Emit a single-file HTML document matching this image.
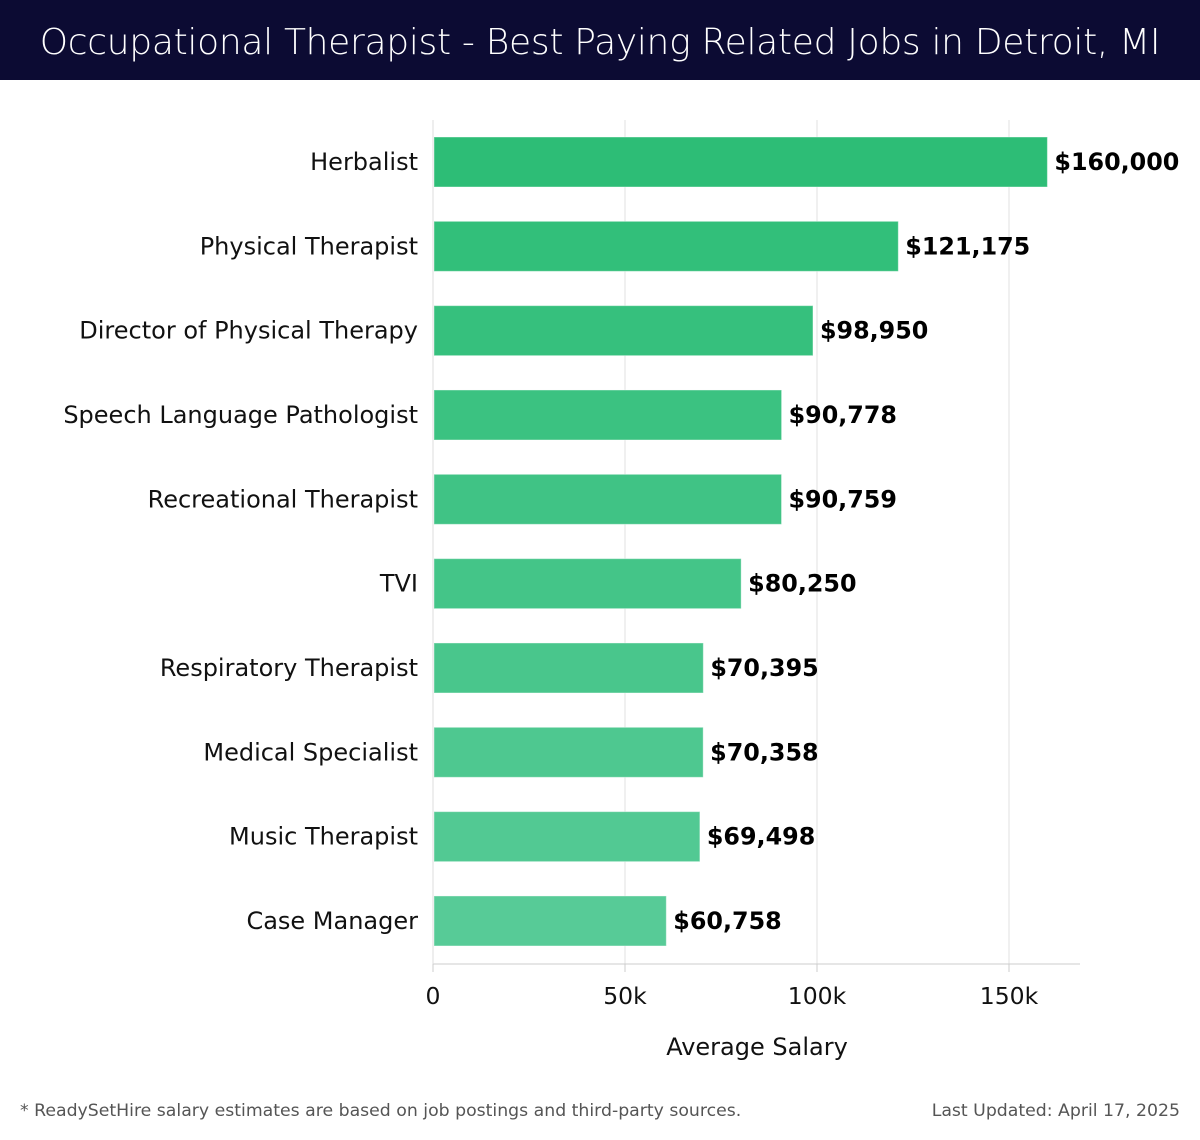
<!DOCTYPE html>
<html><head><meta charset="utf-8"><style>
body{margin:0;width:1200px;height:1140px;background:#fff;font-family:"DejaVu Sans","Liberation Sans",sans-serif;overflow:hidden}
#hdr{position:absolute;left:0;top:0;width:1200px;height:80px;background:#0c0b33;color:#fff;font-size:36px;font-weight:300;text-align:center;line-height:86px;font-family:"DejaVu Sans","Liberation Sans",sans-serif;letter-spacing:-0.3px}
.foot{position:absolute;top:1101px;font-size:17.3px;color:#555}
</style></head><body>
<div id="hdr">Occupational Therapist - Best Paying Related Jobs in Detroit, MI</div>
<svg id="chart" width="1200" height="1140" style="position:absolute;left:0;top:0"></svg>
<div class="foot" style="left:20px">* ReadySetHire salary estimates are based on job postings and third-party sources.</div>
<div class="foot" style="right:20px">Last Updated: April 17, 2025</div>
<script>
const categories=["Herbalist","Physical Therapist","Director of Physical Therapy","Speech Language Pathologist","Recreational Therapist","TVI","Respiratory Therapist","Medical Specialist","Music Therapist","Case Manager"];
const values=[160000,121175,98950,90778,90759,80250,70395,70358,69498,60758];
const valueLabels=["$160,000","$121,175","$98,950","$90,778","$90,759","$80,250","$70,395","$70,358","$69,498","$60,758"];
const tickValues=[0,50000,100000,150000];
const tickLabels=["0","50k","100k","150k"];
const NS="http://www.w3.org/2000/svg";
const svg=document.getElementById('chart');
const x0=433,kpx=3.84/1000;
const xs=v=>x0+v*kpx;
const yTop=120,yBot=964,pitch=84.33,c0=162;
const yc=i=>c0+i*pitch;
function mk(t,a){const e=document.createElementNS(NS,t);for(const k in a)e.setAttribute(k,a[k]);svg.appendChild(e);return e;}
tickValues.forEach((v,i)=>{
 const g=mk('line',{x1:xs(v),x2:xs(v),y1:yTop,y2:yBot,stroke:'#e0e0e0','stroke-width':1});
 
 
 const tk=mk('line',{x1:xs(v),x2:xs(v),y1:yBot,y2:yBot+8,stroke:'#ccc','stroke-width':1});
 
 
 const t=mk('text',{x:xs(v),y:1004,'text-anchor':'middle','font-size':23.5,fill:'#111'});
 t.textContent=tickLabels[i];
 
 
});
const ax=mk('line',{x1:x0,x2:1080,y1:yBot,y2:yBot,stroke:'#ccc','stroke-width':1});


const ay=mk('line',{x1:x0,x2:x0,y1:yTop,y2:yBot,stroke:'#ddd','stroke-width':1});


const xt=mk('text',{x:757,y:1055,'text-anchor':'middle','font-size':24,fill:'#111'});
xt.textContent='Average Salary';


const n=categories.length;
categories.forEach((c,i)=>{
 const f=i/(n-1);
 const col=`rgb(${Math.round(45+f*42)},${Math.round(189+f*14)},${Math.round(118+f*33)})`;
 const b=mk('rect',{x:x0+1,y:yc(i)-25,width:xs(values[i])-x0-1,height:50,fill:col,stroke:'rgba(255,255,255,0.4)'});
 
 
 const l=mk('text',{x:418,y:yc(i)+8,'text-anchor':'end','font-size':24,fill:'#111'});
 l.textContent=c;
 
 
 const v=mk('text',{x:xs(values[i])+7,y:yc(i)+8,'font-size':23.8,'font-weight':'bold',fill:'#000'});
 v.textContent=valueLabels[i];
 
 
});
</script>
</body></html>
